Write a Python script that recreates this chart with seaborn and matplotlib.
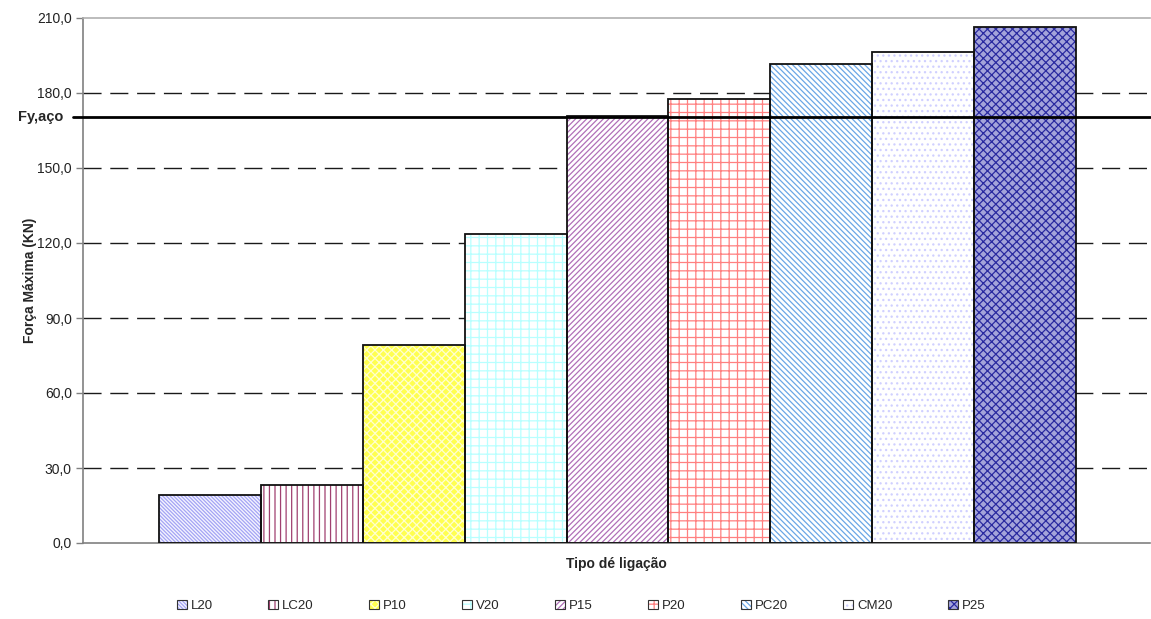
import matplotlib
matplotlib.use("Agg")
import matplotlib.pyplot as plt
from matplotlib.patches import Patch, Rectangle
from matplotlib.ticker import FuncFormatter
import seaborn as sns
import pandas as pd

# Maximum force per connection type (kN)
tipos = ["L20", "LC20", "P10", "V20", "P15", "P20", "PC20", "CM20", "P25"]
forca = [19.2, 23.2, 79.2, 123.7, 170.6, 177.6, 191.5, 196.3, 206.5]
fy_aco = 170.4
yticks = [0, 30, 60, 90, 120, 150, 180, 210]

# Fill style per bar: face colour, hatch pattern, hatch colour
faces = ["#f4f4ff", "#ffffff", "#ffff50", "#ffffff", "#ffffff",
         "#ffffff", "#ffffff", "#ffffff", "#a4a4da"]
hatches = ["\\" * 9, "|" * 3, "xxxx", "++", "/" * 6,
           "++", "\\" * 6, "...", "xxxx"]
hatch_cols = ["#a4a4f4", "#a04070", "#ffffd0", "#b8ffff", "#b070b8",
              "#ff8080", "#6aa6e6", "#d0d0ff", "#2a2aa0"]

sns.set_theme(style="white")
plt.rcParams["font.family"] = ["Liberation Sans", "DejaVu Sans"]
plt.rcParams["hatch.linewidth"] = 0.9

fig = plt.figure(figsize=(11.51, 6.19), dpi=100)
ax = fig.add_axes([83 / 1151, 1 - 543 / 619, 1067 / 1151, 525 / 619])

df = pd.DataFrame({"tipo": tipos, "forca": forca})
sns.barplot(data=df, x="tipo", y="forca", hue="tipo",
            palette=dict(zip(tipos, faces)), width=1.0, legend=False,
            saturation=1.0, ax=ax)

for patch, h, hc in zip(ax.patches, hatches, hatch_cols):
    patch.set_hatch(h)
    patch.set_edgecolor(hc)
    patch.set_linewidth(0)
    bb = patch.get_bbox()
    ax.add_patch(Rectangle((bb.x0, bb.y0), bb.width, bb.height, fill=False,
                           edgecolor="#111111", linewidth=1.3, zorder=3))

ax.set_xlim(-1.246, 9.226)
ax.set_ylim(0, 210)
ax.set_yticks(yticks)
ax.yaxis.set_major_formatter(FuncFormatter(lambda v, _: f"{v:.1f}".replace(".", ",")))
ax.set_xticks([])
ax.tick_params(axis="y", which="major", left=True, length=5, width=1,
               color="#808080", labelsize=10, labelcolor="#222222", pad=3)

# dashed reference lines behind the bars
ax.set_axisbelow(True)
for v in yticks[1:-1]:
    ax.axhline(v, color="#1a1a1a", linewidth=1.0, dashes=(13, 6.3), zorder=0)

ax.spines["right"].set_visible(False)
ax.spines["top"].set_color("#b0b0b0")
ax.spines["top"].set_linewidth(1.2)
ax.spines["left"].set_color("#808080")
ax.spines["left"].set_linewidth(1.2)
ax.spines["bottom"].set_color("#808080")
ax.spines["bottom"].set_linewidth(1.2)

# steel yield force line
ax.axhline(fy_aco, xmin=-0.0095, xmax=1.0, color="black", linewidth=2.0,
           clip_on=False, zorder=4)
ax.text(-0.018, fy_aco, "Fy,aço", transform=ax.get_yaxis_transform(),
        ha="right", va="center", fontsize=10.5, fontweight="bold")

ax.set_ylabel("Força Máxima (KN)", fontsize=10, fontweight="bold", labelpad=0)
ax.set_xlabel("Tipo dé ligação", fontsize=10, fontweight="bold", labelpad=10)

handles = [(Patch(facecolor=f, hatch=h, edgecolor=hc, linewidth=0),
            Patch(fill=False, edgecolor="#333333", linewidth=0.8))
           for f, h, hc in zip(faces, hatches, hatch_cols)]
fig.legend(handles, tipos, loc="center", bbox_to_anchor=(581 / 1151, 1 - 606 / 619),
           ncol=9, frameon=False, fontsize=9.5, handlelength=0.75,
           handleheight=0.75, handletextpad=0.3, columnspacing=4.2)

fig.savefig("out.png", dpi=100)
